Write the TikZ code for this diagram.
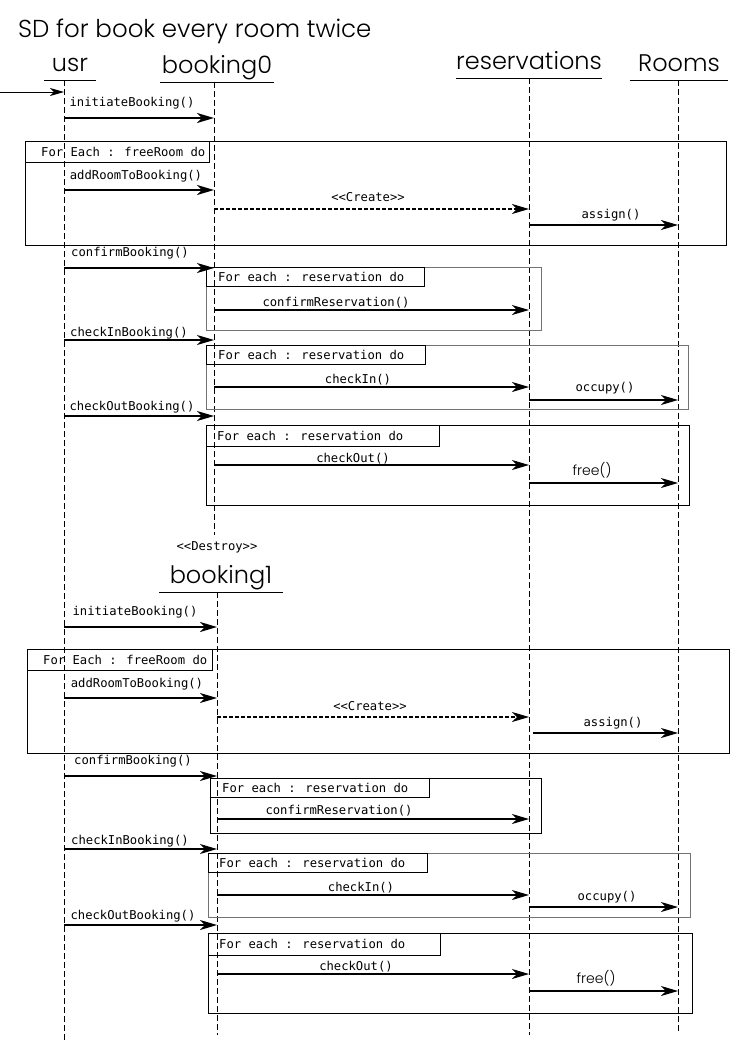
\documentclass[tikz,border=0pt]{standalone}
\usepackage{fontspec}
\usepackage{tikz}
\usetikzlibrary{calc}
\usetikzlibrary{arrows.meta}
\usetikzlibrary{positioning}
\newfontfamily\headfont{Poppins}[UprightFont=* Light]
\newfontfamily\msgfont{DejaVu Sans Mono}
\tikzset{head/.style={inner xsep=0pt,inner ysep=2.5pt,text height=17pt,text depth=6pt,font=\headfont\fontsize{24}{28}\selectfont}}
\tikzset{lifeline/.style={line width=1pt,dash pattern=on 6pt off 3pt}}
\tikzset{msg/.style={line width=1.2pt,-{Stealth[length=17pt,width=10pt,inset=5pt]}}}
\tikzset{bmsg/.style={msg,line width=2pt}}
\tikzset{dmsg/.style={msg,dash pattern=on 4pt off 2pt}}
\tikzset{mlabel/.style={font=\msgfont\fontsize{12.2}{14}\selectfont,inner sep=0pt}}
\tikzset{frame/.style={draw=black,line width=1pt}}
\tikzset{gframe/.style={draw=black!55,line width=1pt}}

\begin{document}
\begin{tikzpicture}[x=1pt,y=-1pt]
  \useasboundingbox (0,0) rectangle (745,1053);
  % title
  \node[font=\headfont\fontsize{24.5}{30}\selectfont,anchor=west,inner sep=0pt] (title) at (18,31) {SD for book every room twice};

  % objects and their lifelines
  \foreach \n/\cx/\by/\w/\lx/\ey/\txt in {
      usr/70/80/52/64/1040/usr,
      booking0/217/82/114/214/535/booking0,
      reservations/529/78/146/529/1035/reservations,
      rooms/679/80/98/678/1033/Rooms,
      booking1/221/592/123/217/1035/booking1} {
    \node[head,anchor=south,minimum width=\w] (\n) at (\cx,\by) {\txt};
    \draw[line width=1pt] (\n.south west) -- (\n.south east);
    \coordinate (\n-end) at (\lx,\ey);
    \draw[lifeline] (\n.south -| \n-end) -- (\n-end);
  }
  \node[mlabel] (destroy) at (217,547) {<\kern0pt<Destroy>\kern0pt>};

  % loop frames
  \foreach \n/\xa/\ya/\xb/\yb/\lx/\ly/\tx/\st/\txt in {
      f1/25/141/726/245/209/162/41/frame/For Each : freeRoom do,
      f2/206/267/541/330/424/286/218/gframe/For each : reservation do,
      f3/206/345/688/409/425/364/218/gframe/For each : reservation do,
      f4/206/425/689/505/439/446/217/frame/For each : reservation do,
      f5/27/649/729/753/212/670/43/frame/For Each : freeRoom do,
      f6/210/778/541/833/429/797/222/frame/For each : reservation do,
      f7/208/853/690/917/427/872/219/gframe/For each : reservation do,
      f8/208/933/692/1013/440/955/219/frame/For each : reservation do} {
    \draw[\st] (\xa,\ya) rectangle (\xb,\yb);
    \draw[frame] (\xa,\ya) rectangle (\lx,\ly);
    \pgfmathsetmacro{\my}{(\ya+\ly)/2}
    \node[mlabel,anchor=west] (\n-l) at (\tx,\my) {\txt};
  }

  % found message
  \coordinate (start) at (0,92);
  \coordinate (start-e) at (64,92);
  \draw[line width=1pt,-{Stealth[length=14pt,width=8pt,inset=4pt]}] (start) -- (start-e);

  % messages
  \foreach \n/\xa/\xb/\y/\st/\lx/\ly/\txt in {
      init0/64/214/118/bmsg/132/103/initiateBooking(),
      add0/64/214/190/bmsg/136/176/addRoomToBooking(),
      create0/214/529/209/dmsg/368/197/<\kern0pt<Create>\kern0pt>,
      assign0/529/678/225/msg/611/215/assign(),
      conf0/64/214/268/msg/130/253/confirmBooking(),
      confres0/214/529/310/msg/336/303/confirmReservation(),
      cib0/64/214/340/msg/129/333/checkInBooking(),
      ci0/214/529/387/msg/358/380/checkIn(),
      occ0/529/678/400/msg/605/388/occupy(),
      cob0/64/214/416/msg/132/407/checkOutBooking(),
      co0/214/529/465/msg/353/459/checkOut(),
      free0/529/678/483/msg/592/470/{\headfont\fontsize{14}{16}\selectfont free()},
      init1/64/217/627/bmsg/135/612/initiateBooking(),
      add1/64/217/698/msg/137/684/addRoomToBooking(),
      create1/217/529/717/dmsg/370/706/<\kern0pt<Create>\kern0pt>,
      assign1/533/678/733/msg/613/723/assign(),
      conf1/64/217/776/msg/133/761/confirmBooking(),
      confres1/217/529/819/msg/339/811/confirmReservation(),
      cib1/64/217/849/msg/130/841/checkInBooking(),
      ci1/217/529/895/msg/361/888/checkIn(),
      occ1/529/678/907/msg/607/897/occupy(),
      cob1/64/217/925/msg/133/916/checkOutBooking(),
      co1/217/529/974/msg/356/967/checkOut(),
      free1/529/678/991/msg/596/978/{\headfont\fontsize{14}{16}\selectfont free()}} {
    \coordinate (\n-s) at (\xa,\y);
    \coordinate (\n-e) at (\xb,\y);
    \draw[\st] (\n-s) -- (\n-e);
    \node[mlabel] (\n-l) at (\lx,\ly) {\txt};
  }
\end{tikzpicture}
\end{document}
